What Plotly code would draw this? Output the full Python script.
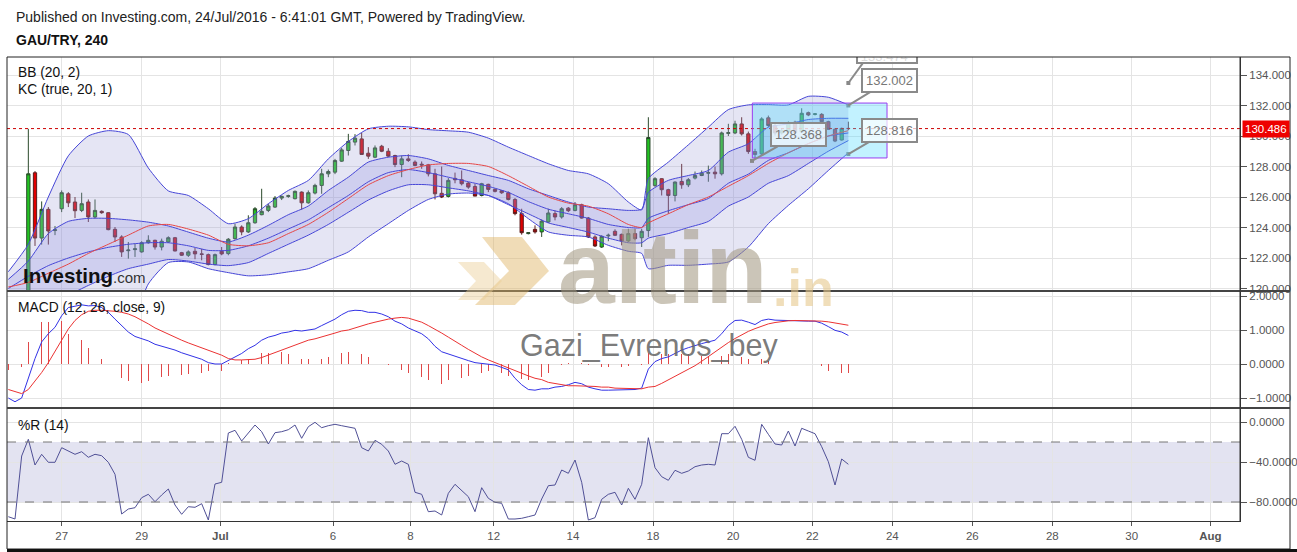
import plotly.graph_objects as go

# ---------------- DATA ----------------
candle_idx = list(range(127))
opens = [119.5, 119.4, 119.3, 119.8, 127.59, 123.31, 125.19, 123.8, 125.23, 126.21,
 125.67, 125.12, 125.67, 124.69, 125.06, 124.97, 123.88, 123.38, 122.48, 122.55,
 122.40, 123.0, 123.16, 122.72, 123.05, 123.33, 122.35, 122.18, 122.44, 122.27,
 122.22, 121.57, 122.44, 122.29, 123.27, 124.03, 123.71, 124.31, 124.84, 125.12,
 125.34, 125.93, 126.04, 125.89, 126.32, 125.62, 126.26, 126.76, 127.52, 127.63,
 128.35, 129.05, 129.6, 129.81, 128.87, 128.61, 129.33, 129.0, 128.72, 128.13,
 128.5, 128.29, 128.15, 128.11, 127.52, 126.24, 126.04, 127.22, 127.13, 126.91,
 126.69, 126.1, 126.83, 126.5, 126.41, 126.28, 125.84, 124.91, 123.6, 123.88,
 123.71, 124.36, 124.91, 124.69, 125.27, 125.12, 125.49, 124.62, 123.38, 122.72,
 123.45, 123.75, 123.55, 123.12, 123.6, 123.33, 123.8, 126.76, 127.2, 126.48,
 126.1, 127.02, 126.8, 127.24, 127.41, 127.56, 127.63, 127.52, 130.17, 130.2,
 130.79, 130.14, 128.98, 128.83, 131.19, 130.69, 130.2, 130.28, 130.9, 130.28,
 131.53, 131.42, 131.42, 130.94, 130.44, 129.74, 130.5]
highs = [119.7, 119.6, 119.9, 130.47, 127.7, 125.71, 125.34, 124.1, 126.43, 126.32,
 126.0, 126.28, 125.84, 125.84, 125.12, 125.0, 124.03, 123.49, 123.05, 122.94,
 123.1, 123.49, 123.2, 123.27, 123.42, 123.38, 122.4, 122.5, 122.66, 122.6,
 122.29, 122.29, 122.72, 123.31, 124.25, 124.14, 124.8, 125.34, 126.54, 125.56,
 126.06, 126.1, 126.15, 126.43, 126.37, 126.43, 126.87, 127.85, 127.8, 128.5,
 129.22, 130.14, 130.12, 130.2, 129.27, 129.38, 129.42, 129.2, 128.77, 128.72,
 128.8, 128.4, 128.33, 128.17, 127.85, 128.0, 127.24, 127.6, 127.74, 126.98,
 126.87, 126.93, 126.87, 126.56, 126.45, 126.37, 125.93, 125.23, 123.7, 124.14,
 124.53, 125.23, 125.12, 125.34, 125.34, 125.67, 125.56, 124.69, 123.49, 123.49,
 123.6, 123.88, 123.6, 123.92, 123.92, 123.92, 131.23, 127.3, 127.24, 126.54,
 127.02, 128.17, 127.24, 127.67, 127.74, 128.06, 128.0, 130.29, 130.8, 131.0,
 131.23, 130.29, 129.16, 131.23, 131.34, 130.9, 130.5, 130.95, 131.0, 131.82,
 131.6, 131.5, 131.5, 131.0, 130.5, 130.55, 130.94]
lows = [119.2, 119.1, 119.1, 119.5, 122.79, 122.88, 122.88, 123.5, 125.01, 125.34,
 124.62, 125.01, 124.36, 124.58, 124.9, 123.82, 123.05, 122.07, 121.96, 122.07,
 122.35, 122.94, 122.55, 122.5, 122.99, 122.44, 122.13, 122.07, 121.92, 121.85,
 121.52, 121.52, 122.18, 122.18, 123.2, 123.49, 123.64, 124.25, 124.8, 125.01,
 125.28, 125.8, 125.95, 125.84, 125.17, 125.56, 126.17, 126.21, 127.3, 127.5,
 128.3, 128.72, 129.38, 128.79, 128.5, 128.55, 128.94, 128.61, 127.96, 127.3,
 128.3, 128.02, 127.85, 127.35, 125.84, 125.93, 125.97, 126.9, 126.76, 126.54,
 126.06, 126.04, 126.32, 126.3, 126.2, 125.78, 124.8, 123.53, 123.55, 123.6,
 123.38, 124.3, 124.47, 124.58, 125.01, 125.06, 124.58, 123.31, 122.72, 122.66,
 123.1, 123.44, 122.83, 123.05, 123.16, 122.72, 123.38, 126.65, 126.1, 124.9,
 125.71, 126.54, 126.65, 127.15, 127.37, 127.0, 127.2, 127.41, 130.0, 130.12,
 130.03, 128.83, 128.5, 128.72, 130.58, 130.03, 130.1, 130.2, 130.15, 130.2,
 131.3, 131.35, 130.9, 130.4, 129.6, 129.7, 130.4]
closes = [119.4, 119.3, 119.8, 127.52, 123.31, 125.19, 123.77, 123.85, 126.28, 125.62,
 125.10, 125.56, 124.69, 125.12, 124.97, 123.86, 123.38, 122.40, 122.52, 122.6,
 123.0, 123.16, 122.72, 123.1, 123.33, 122.46, 122.18, 122.4, 122.27, 122.24,
 121.57, 122.22, 122.27, 123.23, 124.03, 123.71, 124.31, 125.23, 125.06, 125.41,
 125.93, 126.04, 126.08, 126.37, 125.62, 126.28, 126.76, 127.52, 127.67, 128.39,
 129.09, 129.64, 129.86, 128.79, 128.68, 129.22, 129.0, 128.68, 128.13, 128.5,
 128.4, 128.07, 128.1, 127.52, 126.21, 126.0, 127.09, 127.13, 126.87, 126.65,
 126.06, 126.87, 126.5, 126.37, 126.28, 125.84, 124.91, 123.66, 123.66, 123.71,
 124.42, 124.95, 124.69, 125.23, 125.1, 125.49, 124.62, 123.38, 122.79, 123.42,
 123.49, 123.49, 123.12, 123.6, 123.27, 123.75, 129.9, 127.2, 126.48, 126.1,
 126.98, 126.8, 127.13, 127.41, 127.56, 127.6, 127.52, 130.2, 130.22, 130.79,
 130.14, 128.98, 128.79, 131.12, 130.69, 130.2, 130.35, 130.87, 130.24, 131.49,
 131.38, 131.45, 130.94, 130.44, 129.67, 130.5, 130.486]

band_idx = [0, 3, 6, 9, 12, 15, 18, 21, 24, 27, 30, 33, 36, 39, 42, 45, 48, 51, 54, 57,
            60, 63, 66, 69, 72, 75, 78, 81, 84, 87, 90, 93, 95, 96, 99, 102, 105, 108,
            111, 114, 117, 120, 123, 126]
bb_upper = [121.1, 122.9, 126.0, 128.7, 130.0, 130.35, 130.1, 127.9, 126.4, 126.1,
            125.23, 124.25, 124.58, 125.56, 126.43, 127.09, 128.5, 129.64, 130.47, 130.64,
            130.6, 130.42, 130.34, 130.25, 129.86, 129.27, 128.72, 128.18, 127.74, 127.52,
            126.87, 125.67, 125.15, 127.2, 128.29, 129.42, 130.58, 131.73, 132.04, 132.06,
            132.04, 132.6, 132.54, 132.04]
bb_lower = [119.2, 117.9, 116.0, 114.5, 114.6, 115.45, 116.9, 120.3, 121.7, 121.74,
            121.3, 121.04, 120.83, 120.9, 121.09, 121.3, 121.85, 122.4, 123.38, 124.25,
            125.12, 125.84, 126.19, 126.26, 126.1, 125.56, 124.58, 123.71, 123.49, 123.38,
            122.83, 122.44, 122.3, 121.3, 121.52, 121.52, 121.6, 121.74, 122.72, 124.25,
            125.45, 126.54, 127.74, 128.9]
kc_upper = [120.6, 121.8, 123.6, 124.4, 124.6, 124.6, 124.5, 124.35, 124.1, 123.7,
            123.3, 123.05, 123.5, 124.14, 124.84, 125.41, 126.43, 127.3, 128.29, 128.61,
            128.72, 128.5, 128.07, 127.74, 127.41, 127.09, 126.54, 126.1, 125.67, 125.34,
            125.23, 125.12, 125.2, 126.3, 127.09, 127.41, 127.74, 128.94, 129.49, 130.58,
            130.79, 131.08, 131.16, 131.16]
kc_lower = [119.4, 119.3, 119.4, 119.6, 120.2, 120.8, 121.3, 121.6, 121.9, 121.8,
            121.6, 121.5, 121.7, 122.3, 122.9, 123.5, 124.2, 125.0, 125.8, 126.4,
            126.8, 126.8, 126.6, 126.4, 126.1, 125.5, 124.9, 124.3, 124.0, 123.7,
            123.3, 123.0, 123.0, 123.3, 123.6, 124.0, 124.4, 125.4, 126.0, 126.9,
            127.4, 128.2, 129.0, 129.7]
bb_basis = [120.1, 120.4, 121.0, 121.6, 122.3, 122.9, 123.5, 124.1, 124.2, 123.9,
            123.5, 122.9, 122.8, 123.0, 123.6, 124.2, 125.0, 125.9, 126.8, 127.4,
            127.8, 128.1, 128.2, 128.2, 128.0, 127.4, 126.7, 126.0, 125.6, 125.4,
            124.9, 124.2, 124.0, 124.3, 124.9, 125.5, 126.0, 126.7, 127.4, 128.2,
            128.9, 129.5, 130.0, 130.35]
kc_basis = [120.0, 120.8, 121.5, 122.0, 122.4, 122.7, 122.9, 123.0, 123.0, 122.8,
            122.5, 122.5, 122.8, 123.3, 123.9, 124.5, 125.3, 126.1, 127.0, 127.6,
            127.8, 127.6, 127.3, 127.0, 126.7, 126.3, 125.7, 125.2, 124.9, 124.6,
            124.2, 124.0, 124.0, 124.6, 125.1, 125.5, 125.9, 126.9, 127.5, 128.4,
            128.9, 129.5, 130.0, 130.2]

macd_line = [-1.0, -1.11, -1.0, -0.39, 0.16, 0.65, 0.89, 1.08, 1.42, 1.66,
             1.71, 1.74, 1.71, 1.72, 1.66, 1.52, 1.32, 1.13, 0.94, 0.81,
             0.74, 0.68, 0.58, 0.52, 0.48, 0.41, 0.33, 0.26, 0.19, 0.14,
             0.04, 0.0, 0.0, 0.1, 0.19, 0.31, 0.45, 0.55, 0.70, 0.79,
             0.84, 0.91, 0.94, 0.99, 0.97, 0.99, 1.03, 1.13, 1.23, 1.32,
             1.45, 1.55, 1.58, 1.57, 1.52, 1.52, 1.47, 1.39, 1.26, 1.18,
             1.06, 0.97, 0.89, 0.74, 0.52, 0.36, 0.29, 0.23, 0.16, 0.10,
             0.04, 0.02, 0.0, -0.03, -0.10, -0.17, -0.42, -0.61, -0.75, -0.77,
             -0.73, -0.73, -0.68, -0.66, -0.61, -0.54, -0.58, -0.68, -0.73, -0.77,
             -0.77, -0.77, -0.77, -0.75, -0.75, -0.71, -0.15, 0.07, 0.16, 0.21,
             0.31, 0.41, 0.48, 0.55, 0.60, 0.65, 0.70, 0.89, 1.13, 1.28,
             1.29, 1.23, 1.16, 1.28, 1.32, 1.29, 1.28, 1.28, 1.26, 1.26,
             1.26, 1.26, 1.20, 1.10, 0.99, 0.94, 0.84]
signal_line = [-0.75, -0.80, -0.87, -0.75, -0.51, -0.25, 0.04, 0.36, 0.70, 1.03,
               1.28, 1.45, 1.55, 1.58, 1.58, 1.57, 1.55, 1.52, 1.47, 1.39,
               1.29, 1.18, 1.06, 0.97, 0.87, 0.77, 0.70, 0.62, 0.55, 0.48,
               0.41, 0.33, 0.26, 0.16, 0.12, 0.12, 0.12, 0.14, 0.19, 0.26,
               0.33, 0.41, 0.48, 0.55, 0.62, 0.70, 0.74, 0.79, 0.84, 0.91,
               0.97, 1.00, 1.06, 1.13, 1.18, 1.23, 1.28, 1.32, 1.35, 1.37,
               1.35, 1.29, 1.23, 1.13, 1.03, 0.91, 0.79, 0.68, 0.55, 0.43,
               0.31, 0.21, 0.12, 0.04, -0.03, -0.13, -0.19, -0.27, -0.35, -0.42,
               -0.46, -0.54, -0.58, -0.61, -0.64, -0.64, -0.64, -0.66, -0.66, -0.68,
               -0.68, -0.71, -0.71, -0.71, -0.73, -0.73, -0.68, -0.66, -0.57, -0.47,
               -0.37, -0.27, -0.16, -0.05, 0.08, 0.22, 0.36, 0.50, 0.63, 0.75,
               0.86, 0.96, 1.04, 1.12, 1.18, 1.22, 1.25, 1.27, 1.28, 1.28,
               1.28, 1.28, 1.26, 1.24, 1.21, 1.18, 1.14]
macd_hist = [-0.17, -0.15, -0.10, 0.65, 0.70, 1.23, 1.23, 1.26, 1.26, 0.89,
             0.89, 0.70, 0.48, 0.31, 0.16, 0.0, -0.08, -0.42, -0.51, -0.58,
             -0.56, -0.51, -0.48, -0.39, -0.35, -0.32, -0.32, -0.29, -0.29, -0.27,
             -0.22, -0.17, -0.22, 0.04, 0.07, 0.12, 0.16, 0.21, 0.31, 0.33,
             0.39, 0.36, 0.29, 0.21, 0.16, 0.14, 0.14, 0.16, 0.21, 0.23,
             0.31, 0.36, 0.36, 0.29, 0.21, 0.10, 0.0, -0.03, -0.13, -0.17,
             -0.25, -0.32, -0.39, -0.46, -0.56, -0.58, -0.48, -0.44, -0.42, -0.35,
             -0.27, -0.25, -0.22, -0.22, -0.27, -0.35, -0.39, -0.44, -0.48, -0.44,
             -0.39, -0.27, -0.17, -0.03, 0.02, 0.07, 0.04, -0.03, -0.05, -0.10,
             -0.10, -0.10, -0.08, -0.07, -0.07, -0.03, 0.31, 0.35, 0.30, 0.30,
             0.32, 0.30, 0.28, 0.28, 0.25, 0.25, 0.20, 0.25, 0.30, 0.28,
             0.20, 0.15, 0.12, 0.15, 0.10, 0.02, 0.01, 0.01, 0.0, 0.0,
             -0.01, -0.02, -0.05, -0.20, -0.25, -0.27, -0.27]

williams_r = [-94.7, -97, -34, -17.3, -43, -32.3, -40.3, -40.3, -25.7, -29,
              -32.3, -29.7, -35.3, -32.3, -33.7, -40.3, -52.3, -92, -87, -85.7,
              -75.7, -72.3, -79.7, -73, -67, -83, -92.3, -84.7, -85.3, -81.7,
              -98, -62, -60.3, -11, -8.3, -19, -11.3, -3, -9.7, -22,
              -10.7, -9.7, -7.7, -3, -16.3, -4.7, -0.3, -5.7, -3.7, -2.3,
              -3.7, -5, -6.3, -25.7, -29, -18.3, -22.3, -29, -42.3, -39,
              -42.3, -70.3, -72.3, -89.7, -89, -93, -71.3, -62.3, -69, -74.7,
              -89.7, -65.7, -76.3, -80.3, -81.3, -97, -97, -96.3, -94.7, -93,
              -77, -63.7, -63, -48, -51.3, -38, -60.3, -98, -95.7, -77.3,
              -72.3, -70.3, -83, -66.3, -77.3, -62.3, -15.7, -45.7, -54.7, -58.3,
              -48.3, -51.3, -49, -44.7, -43, -42.3, -43, -11.7, -11.7, -4.3,
              -17.3, -35.3, -38.3, -2.3, -12.3, -22, -23, -9, -24, -6.3,
              -9, -11.7, -24.7, -39.7, -63, -37, -42.3]

tick_pos = [8, 20, 31.8, 48.7, 60.3, 72.8, 84.7, 96.7, 108.7, 120.6, 132.6, 144.6, 156.6, 168.5, 180.3]
tick_text = ["27", "29", "<b>Jul</b>", "6", "8", "12", "14", "18", "20", "22", "24", "26", "28", "30", "<b>Aug</b>"]
price_ticks = [120, 122, 124, 126, 128, 130, 132, 134]
macd_ticks = [-1, 0, 1, 2]
r_ticks = [0, -40, -80]
last_price = 130.486
callout_x = [126, 126, 111.55]
callout_y = [132.002, 128.816, 128.368]
top_callout_x = 126
top_callout_y = 133.474

# ---------------- GEOMETRY HELPERS ----------------
W, H = 1297, 552
L, R, T, B = 7, 57, 57, 31
PW, PH = W - L - R, H - T - B


def pxx(x):
    return (x - L) / PW


def pxy(y):
    return (H - B - y) / PH


D_MAIN = [pxy(291), 1.0]
D_MACD = [pxy(408), pxy(291)]
D_R = [0.0, pxy(408)]

BAND_LINE = "rgb(70,70,215)"
GRID = "#e4e4e4"
FONT = "Liberation Sans, Arial"

fig = go.Figure()

# Bollinger band fill
fig.add_trace(go.Scatter(x=band_idx, y=bb_lower, mode="lines", line=dict(color=BAND_LINE, width=1, shape="spline", smoothing=0.6),
                         xaxis="x", yaxis="y", showlegend=False, hoverinfo="skip"))
fig.add_trace(go.Scatter(x=band_idx, y=bb_upper, mode="lines", line=dict(color=BAND_LINE, width=1, shape="spline", smoothing=0.6),
                         fill="tonexty", fillcolor="rgba(160,160,215,0.28)",
                         xaxis="x", yaxis="y", showlegend=False, hoverinfo="skip"))
# Keltner fill
fig.add_trace(go.Scatter(x=band_idx, y=kc_lower, mode="lines", line=dict(color=BAND_LINE, width=1, shape="spline", smoothing=0.6),
                         xaxis="x", yaxis="y", showlegend=False, hoverinfo="skip"))
fig.add_trace(go.Scatter(x=band_idx, y=kc_upper, mode="lines", line=dict(color=BAND_LINE, width=1, shape="spline", smoothing=0.6),
                         fill="tonexty", fillcolor="rgba(120,120,220,0.2)",
                         xaxis="x", yaxis="y", showlegend=False, hoverinfo="skip"))
fig.add_trace(go.Scatter(x=band_idx, y=kc_basis, mode="lines", line=dict(color=BAND_LINE, width=1, shape="spline", smoothing=0.6),
                         xaxis="x", yaxis="y", showlegend=False, hoverinfo="skip"))
fig.add_trace(go.Scatter(x=band_idx, y=bb_basis, mode="lines", line=dict(color="rgb(230,70,70)", width=1, shape="spline", smoothing=0.6),
                         xaxis="x", yaxis="y", showlegend=False, hoverinfo="skip"))

# Candles
fig.add_trace(go.Candlestick(x=candle_idx, open=opens, high=highs, low=lows, close=closes,
                             increasing=dict(fillcolor="#22c322", line=dict(color="#2b4a2b", width=1)),
                             decreasing=dict(fillcolor="#e00000", line=dict(color="#5a1a1a", width=1)),
                             whiskerwidth=0, xaxis="x", yaxis="y", showlegend=False, hoverinfo="skip"))

# Callout dots
fig.add_trace(go.Scatter(x=callout_x + [top_callout_x], y=callout_y + [top_callout_y], mode="markers",
                         marker=dict(symbol="square", size=4, color="#888"),
                         xaxis="x", yaxis="y", showlegend=False, hoverinfo="skip"))
# Top callout text (clipped by the plot area, as in the original)
fig.add_trace(go.Scatter(x=[top_callout_x + 5.4], y=[top_callout_y + 1.66], mode="text",
                         text=[f"{top_callout_y:.3f}"], textfont=dict(size=13, color="#777", family=FONT),
                         textposition="middle center", cliponaxis=True,
                         xaxis="x", yaxis="y", showlegend=False, hoverinfo="skip"))

# MACD
fig.add_trace(go.Bar(x=candle_idx, y=macd_hist, width=0.12, marker=dict(color="#e04848", line=dict(width=0)),
                     xaxis="x2", yaxis="y2", showlegend=False, hoverinfo="skip"))
fig.add_trace(go.Scatter(x=candle_idx, y=macd_line, mode="lines", line=dict(color="rgb(50,50,230)", width=1),
                         xaxis="x2", yaxis="y2", showlegend=False, hoverinfo="skip"))
fig.add_trace(go.Scatter(x=candle_idx, y=signal_line, mode="lines", line=dict(color="rgb(235,50,50)", width=1),
                         xaxis="x2", yaxis="y2", showlegend=False, hoverinfo="skip"))

# Williams %R
fig.add_trace(go.Scatter(x=candle_idx, y=williams_r, mode="lines", line=dict(color="rgb(80,80,150)", width=1),
                         xaxis="x3", yaxis="y3", showlegend=False, hoverinfo="skip"))

XR = [-0.2, (1240 - 8.3) / 6.667]
axis_font = dict(family=FONT, size=11.5, color="#555")

common_x = dict(range=XR, tickvals=tick_pos, ticktext=tick_text, showgrid=True, gridcolor=GRID,
                zeroline=False, showline=False, fixedrange=True)
common_y = dict(side="right", ticks="outside", ticklen=6, tickcolor="#555", tickfont=axis_font,
                automargin=False,
                showgrid=True, gridcolor=GRID, zeroline=False, showline=True, linecolor="#333",
                linewidth=1, fixedrange=True)
fig.update_layout(
    xaxis=dict(common_x, domain=[0, 1], anchor="y", showticklabels=False, rangeslider=dict(visible=False)),
    xaxis2=dict(common_x, domain=[0, 1], anchor="y2", showticklabels=False, matches="x"),
    xaxis3=dict(common_x, domain=[0, 1], anchor="y3", showticklabels=True, matches="x",
                ticks="outside", ticklen=4, tickcolor="#555", tickfont=axis_font,
                showline=True, linecolor="#333", linewidth=1),
    yaxis=dict(common_y, domain=D_MAIN, range=[134 - 216 / 15.25, 134 + 18 / 15.25], anchor="x",
               tickvals=price_ticks, tickformat=".3f"),
    yaxis2=dict(common_y, domain=D_MACD, range=[-44 / 34, 73 / 34], anchor="x2",
                tickvals=macd_ticks, tickformat=".4f"),
    yaxis3=dict(common_y, domain=D_R, range=[-99, 14], anchor="x3",
                tickvals=r_ticks, tickformat=".4f"),
    width=W, height=H, autosize=False,
    margin=dict(l=L, r=R, t=T, b=B),
    paper_bgcolor="white", plot_bgcolor="white",
    bargap=0, showlegend=False,
    font=dict(family=FONT, color="#222"),
)

shapes = []
# %R band
shapes.append(dict(type="rect", xref="paper", yref="y3", x0=0, x1=1, y0=-80, y1=-20,
                   fillcolor="#e3e3f1", line=dict(width=0), layer="below"))
for lvl in (-20, -80):
    shapes.append(dict(type="line", xref="paper", yref="y3", x0=0, x1=1, y0=lvl, y1=lvl,
                       line=dict(color="#777", width=1, dash="dash")))
# last price line
shapes.append(dict(type="line", xref="paper", yref="y", x0=0, x1=1, y0=last_price, y1=last_price,
                   line=dict(color="#cc0000", width=1, dash="dot")))
# drawn rectangle
shapes.append(dict(type="rect", xref="x", yref="y", x0=111.6, x1=131.8, y0=128.56, y1=132.16,
                   fillcolor="rgba(70,215,255,0.33)", line=dict(color="#9a3df0", width=1)))
# top callout box (clipped)
shapes.append(dict(type="rect", xref="x", yref="y", x0=127.3, x1=136.3, y0=134.79, y1=136.2,
                   fillcolor="rgba(255,255,255,0.75)", line=dict(color="#8a8a8a", width=2)))
shapes.append(dict(type="line", xref="x", yref="y", x0=top_callout_x, x1=128.2, y0=top_callout_y, y1=134.79,
                   line=dict(color="#8a8a8a", width=2)))
# frames and separators
shapes.append(dict(type="rect", xref="paper", yref="paper", x0=0, x1=pxx(1290), y0=pxy(549), y1=1,
                   line=dict(color="#222", width=1)))
shapes.append(dict(type="line", xref="paper", yref="paper", x0=0, x1=pxx(1297), y0=pxy(550.5), y1=pxy(550.5),
                   line=dict(color="#111", width=3)))
for yy in (291, 408):
    shapes.append(dict(type="line", xref="paper", yref="paper", x0=0, x1=pxx(1290), y0=pxy(yy), y1=pxy(yy),
                       line=dict(color="#444", width=2)))
shapes.append(dict(type="line", xref="paper", yref="paper", x0=1, x1=1, y0=0, y1=1,
                   line=dict(color="#333", width=1)))


# watermark chevrons
def poly(points):
    return "M " + " L ".join(f"{pxx(a):.5f},{pxy(b):.5f}" for a, b in points) + " Z"


shapes.append(dict(type="path", xref="paper", yref="paper",
                   path=poly([(482, 237), (522, 237), (549, 271), (515, 305), (475, 305), (509, 271)]),
                   fillcolor="rgba(222,178,95,0.45)", line=dict(width=0)))
shapes.append(dict(type="path", xref="paper", yref="paper",
                   path=poly([(458, 262), (484, 262), (502, 281), (484, 300), (458, 300), (476, 281)]),
                   fillcolor="rgba(236,206,150,0.45)", line=dict(width=0)))
fig.update_layout(shapes=shapes)

ann = []
hdr = dict(xref="paper", yref="paper", xanchor="left", yanchor="middle", showarrow=False)
ann.append(dict(hdr, x=pxx(14), y=pxy(17), text="Published on Investing.com, 24/Jul/2016 - 6:41:01 GMT, Powered by TradingView.",
                font=dict(size=14, color="#222")))
ann.append(dict(hdr, x=pxx(14), y=pxy(40), text="<b>GAU/TRY, 240</b>", font=dict(size=14, color="#111")))
ann.append(dict(hdr, x=pxx(16), y=pxy(72), text="BB (20, 2)", font=dict(size=13.8, color="#111")))
ann.append(dict(hdr, x=pxx(16), y=pxy(89), text="KC (true, 20, 1)", font=dict(size=13.8, color="#111")))
ann.append(dict(hdr, x=pxx(16), y=pxy(307), text="MACD (12, 26, close, 9)", font=dict(size=13.8, color="#111")))
ann.append(dict(hdr, x=pxx(16), y=pxy(425), text="%R (14)", font=dict(size=13.8, color="#111")))
# watermarks
ann.append(dict(hdr, x=pxx(556), y=pxy(268), text="<b>altin</b>", font=dict(size=102, color="rgba(160,150,125,0.55)")))
ann.append(dict(hdr, x=pxx(771), y=pxy(288), text="<b>.in</b>", font=dict(size=52, color="rgba(230,200,140,0.6)")))
ann.append(dict(hdr, x=pxx(518), y=pxy(345), text="Gazi_Evrenos_bey", font=dict(size=30.5, color="rgba(100,100,100,0.85)")))
ann.append(dict(hdr, x=pxx(21), y=pxy(275),
                text="<b>Investing</b><span style='font-size:15px;color:#333'>.com</span>",
                font=dict(size=20.5, color="#111")))
# last price label
ann.append(dict(xref="paper", yref="y", x=1, y=last_price, xanchor="left", yanchor="middle", showarrow=False,
                xshift=2, text=f"{last_price:.3f}", bgcolor="#ee0000", font=dict(size=11.5, color="white"), borderpad=2))
# callouts
offsets = [(41, -25), (41, -24), (46, -26)]
for cx, cy, (ox, oy) in zip(callout_x, callout_y, offsets):
    ann.append(dict(xref="x", yref="y", x=cx, y=cy, ax=ox, ay=oy, text=f"{cy:.3f}", showarrow=True,
                    arrowhead=0, arrowwidth=2, arrowcolor="#8a8a8a", standoff=0,
                    bgcolor="rgba(255,255,255,0.7)", bordercolor="#8a8a8a", borderwidth=2, borderpad=3,
                    font=dict(size=13, color="#777")))
fig.update_layout(annotations=ann)

fig.write_html("out.html", config={"displayModeBar": False, "staticPlot": True},
               post_script="document.body.style.margin='0';document.body.style.padding='0';"
                           "window.dispatchEvent(new Event('resize'));")
